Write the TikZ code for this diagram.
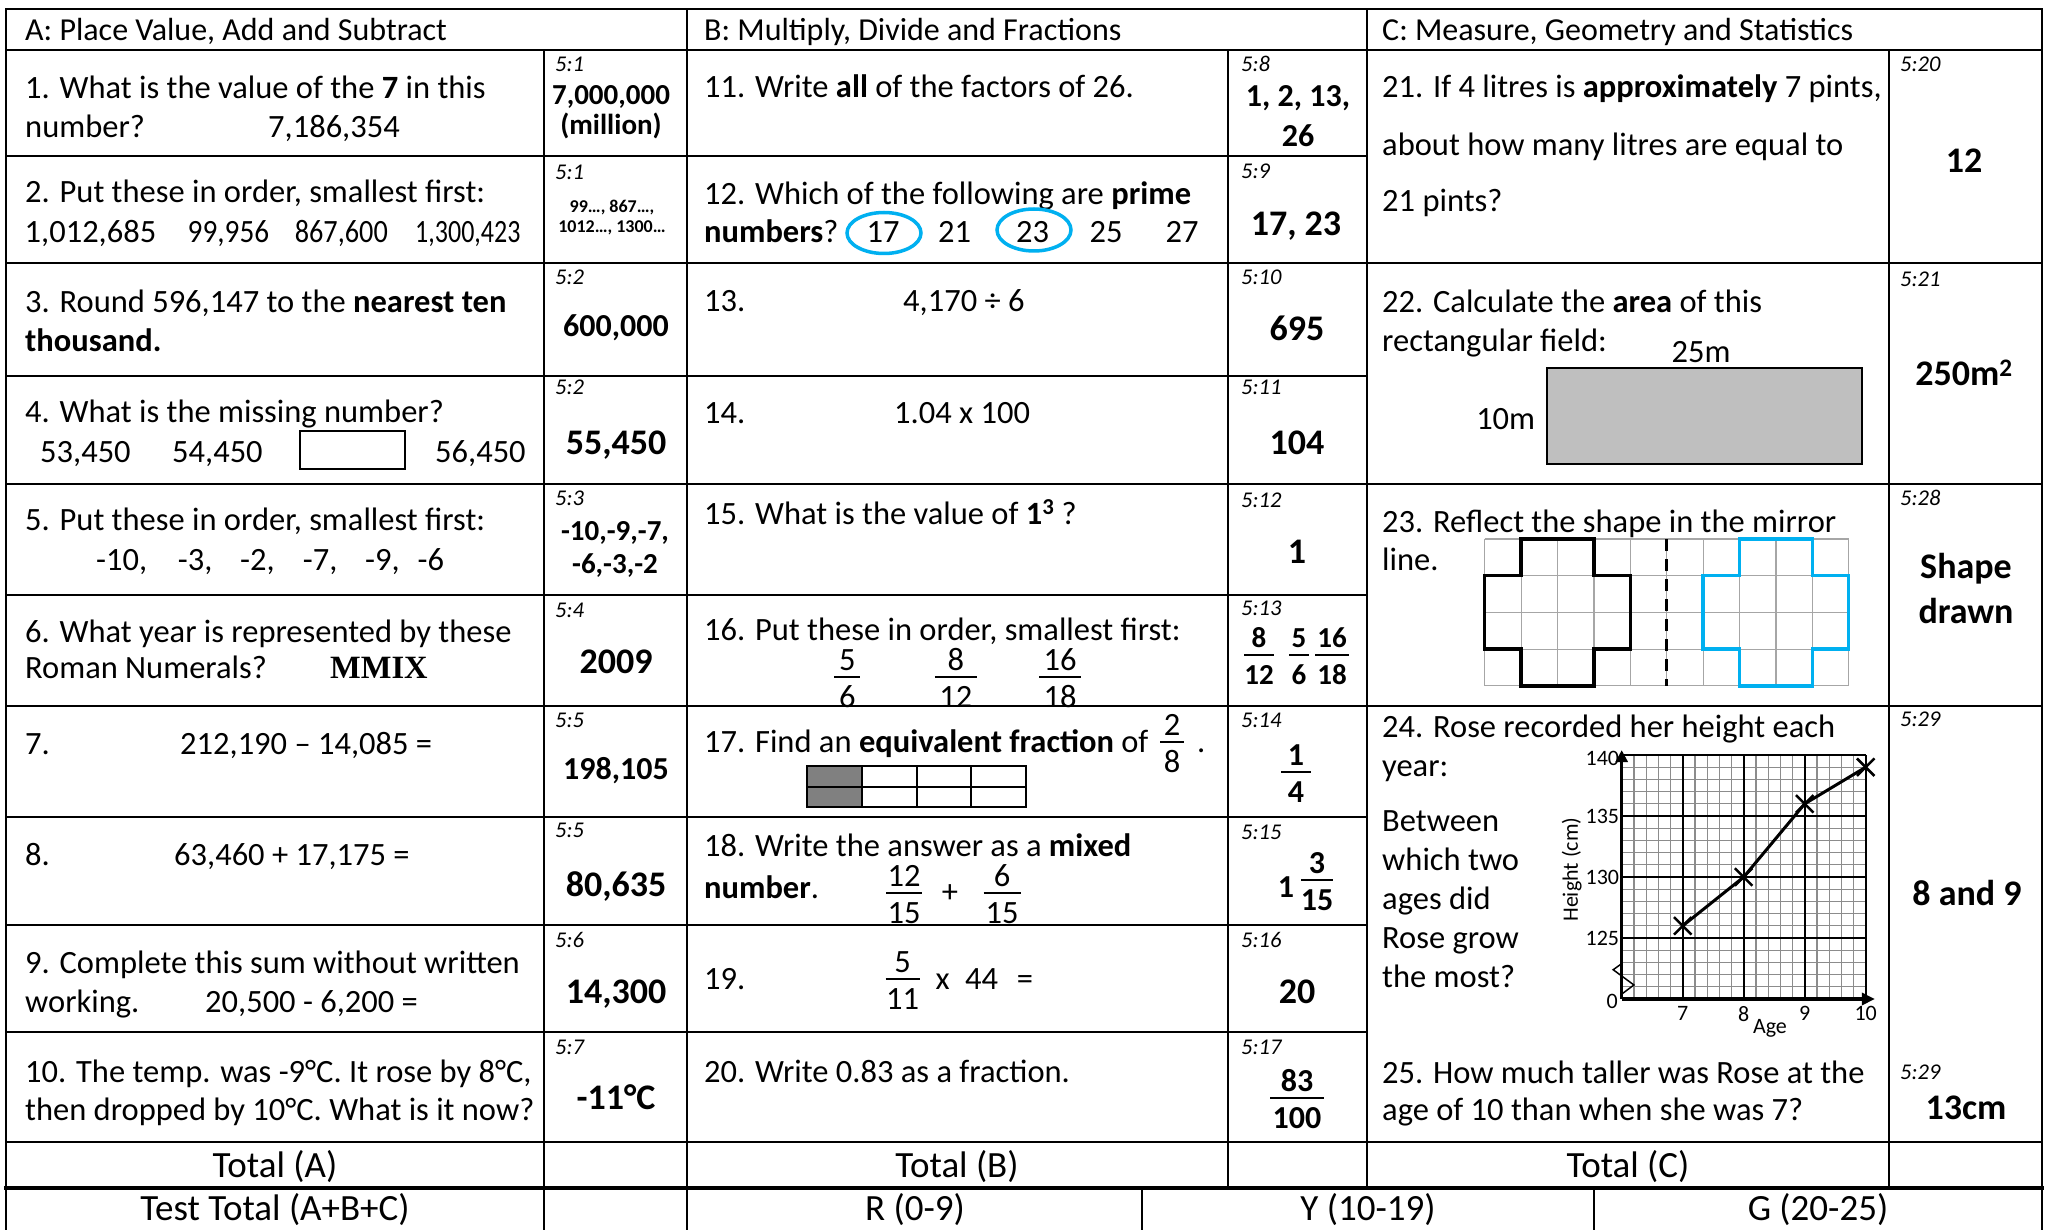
\documentclass[tikz,border=0pt]{standalone}
\usepackage{fontspec}
\usepackage{graphicx}
\setmainfont{Carlito}
\newfontfamily\romanf{Liberation Serif}
\usetikzlibrary{arrows.meta,shapes.misc}
\definecolor{fieldgrey}{HTML}{BFBFBF}
\definecolor{shadegrey}{HTML}{808080}
\definecolor{ringblue}{HTML}{00B0F0}
\definecolor{gridgrey}{HTML}{A6A6A6}
\definecolor{minorgrey}{HTML}{8C8C8C}
\newcommand\bodyf{\fontsize{32.5}{39}\selectfont}
\newcommand\hdf{\fontsize{32}{38}\selectfont}
\newcommand\ansf{\fontsize{36}{43}\selectfont\bfseries}
\newcommand\ansmf{\fontsize{32}{38}\selectfont\bfseries}
\newcommand\anssf{\fontsize{29}{35}\selectfont\bfseries}
\newcommand\anstf{\fontsize{18}{22}\selectfont\bfseries}
\newcommand\tagf{\fontsize{22.5}{27}\selectfont\itshape}
\newcommand\grf{\fontsize{22}{26}\selectfont}
\newcommand\totf{\fontsize{37}{44}\selectfont}
% stacked fraction: style, name, x, y of bar, half bar, numerator, denominator
\newcommand\fracat[7]{%
  \node[ctr,#1] (#2n) at (#3,#4-17) {#6};
  \node[ctr,#1] (#2d) at (#3,#4+20) {#7};
  \draw[line width=2pt] (#3-#5,#4) -- (#3+#5,#4);}

\begin{document}
\begin{tikzpicture}[x=1pt,y=-1pt,
  rule/.style={line width=2.8pt,line cap=rect},
  txt/.style={anchor=base west,inner sep=0pt,font=\bodyf,yshift=-10pt},
  ctr/.style={anchor=base,inner sep=0pt,font=\bodyf,yshift=-10pt},
  ans/.style={ctr,font=\ansf,yshift=-1pt},
  tag/.style={anchor=base west,inner sep=0pt,font=\tagf,yshift=-7pt},
  tot/.style={ctr,font=\totf,yshift=-1.5pt}]
\useasboundingbox (0,0) rectangle (2046,1230);
\fill[white] (0,0) rectangle (2046,1230);

% table rules
\draw[rule] (6,9) -- (2042,9);
\draw[rule] (6,50) -- (2042,50);
\foreach \y in {156,376,595,817,925,1032} \draw[rule] (6,\y) -- (1367,\y);
\foreach \y in {263,484,706} \draw[rule] (6,\y) -- (2042,\y);
\draw[rule] (6,1142) -- (2042,1142);
\draw[rule,line width=4.5pt] (6,1188) -- (2042,1188);
\foreach \x in {6,687,2042} \draw[rule] (\x,9) -- (\x,1240);
\draw[rule] (1367,9) -- (1367,1188);
\draw[rule] (544,50) -- (544,1240);
\foreach \x in {1228,1889} \draw[rule] (\x,50) -- (\x,1188);
\foreach \x in {1142,1594} \draw[rule] (\x,1188) -- (\x,1240);

% headings
\node[txt,font=\hdf] (hA) at (25,31) {A: Place Value, Add and Subtract};
\node[txt,font=\hdf] (hB) at (704,31) {B: Multiply, Divide and Fractions};
\node[txt,font=\hdf] (hC) at (1382,31) {C: Measure, Geometry and Statistics};

% column A
\node[txt] (q1a) at (25,89) {1. What is the value of the \textbf{7} in this};
\node[txt] (q1b) at (25,128) {number?};
\node[txt] (q1c) at (268,128) {7,186,354};
\node[tag] (t1) at (555,65) {5:1};
\node[ctr,font=\anssf] (a1a) at (611,95) {7,000,000};
\node[ctr,font=\anssf] (a1b) at (611,125) {(million)};

\node[txt] (q2a) at (25,193) {2. Put these in order, smallest first:};
\node[txt] (q2b) at (24.5,233) {1,012,685};
\node[txt] (q2c) at (187.5,233) {\scalebox{0.9}[1]{99,956}};
\node[txt] (q2d) at (294.6,233) {\scalebox{0.87}[1]{867,600}};
\node[txt] (q2e) at (415,233) {\scalebox{0.8}[1]{1,300,423}};
\node[tag] (t2) at (555,173) {5:1};
\node[ctr,font=\anstf,yshift=4pt] (a2a) at (612,207) {99…, 867…,};
\node[ctr,font=\anstf,yshift=4pt] (a2b) at (612,227) {1012…, 1300…};

\node[txt] (q3a) at (25,303) {3. Round 596,147 to the \textbf{nearest ten}};
\node[txt] (q3b) at (25,342) {\textbf{thousand.}};
\node[tag] (t3) at (555,278) {5:2};
\node[ctr,font=\ansmf] (a3) at (616,327) {600,000};

\node[txt] (q4a) at (25,413) {4. What is the missing number?};
\node[txt] (q4b) at (40,453) {53,450};
\node[txt] (q4c) at (172,453) {54,450};
\draw[line width=2pt] (300.4,431) rectangle (405.4,469);
\node[txt] (q4d) at (435,453) {56,450};
\node[tag] (t4) at (555,388) {5:2};
\node[ans] (a4) at (616,443) {55,450};

\node[txt] (q5a) at (25,520) {5. Put these in order, smallest first:};
\foreach \x/\v [count=\i] in {96/{-10,},177.7/{-3,},240/{-2,},302.7/{-7,},365/{-9,},417.4/{-6}}
  \node[txt] (q5n\i) at (\x,560) {\v};
\node[tag] (t5) at (555,498) {5:3};
\node[ctr,font=\anssf] (a5a) at (615,530) {-10,-9,-7,};
\node[ctr,font=\anssf] (a5b) at (615,563) {-6,-3,-2};

\node[txt] (q6a) at (25,632) {6. What year is represented by these};
\node[txt] (q6b) at (25,668) {Roman Numerals?};
\node[txt,font=\bodyf\romanf\bfseries] (q6c) at (330,668) {MMIX};
\node[tag] (t6) at (555,610) {5:4};
\node[ans] (a6) at (616,662) {2009};

\node[txt] (q7a) at (25,744) {7.};
\node[txt] (q7b) at (180,744) {212,190 – 14,085 =};
\node[tag] (t7) at (555,720) {5:5};
\node[ctr,font=\ansmf] (a7) at (616,769) {198,105};

\node[txt] (q8a) at (25,855) {8.};
\node[txt] (q8b) at (174,855) {63,460 + 17,175 =};
\node[tag] (t8) at (555,830) {5:5};
\node[ans] (a8) at (616,885) {80,635};

\node[txt] (q9a) at (25,963) {9. Complete this sum without written};
\node[txt] (q9b) at (25,1002) {working.};
\node[txt] (q9c) at (205,1002) {20,500 - 6,200 =};
\node[tag] (t9) at (555,940) {5:6};
\node[ans] (a9) at (616,992) {14,300};

\node[txt] (q10a) at (25,1072) {10. The temp. was -9°C. It rose by 8°C,};
\node[txt] (q10b) at (25,1110) {then dropped by 10°C. What is it now?};
\node[tag] (t10) at (555,1047) {5:7};
\node[ans] (a10) at (616,1098) {-11°C};

% column B
\node[txt] (q11) at (704,88) {11. Write \textbf{all} of the factors of 26.};
\node[tag] (t11) at (1241,65) {5:8};
\node[ctr,font=\ansmf] (a11a) at (1298,97) {1, 2, 13,};
\node[ctr,font=\ansmf] (a11b) at (1298,137) {26};

\node[txt] (q12a) at (704,195) {12. Which of the following are \textbf{prime}};
\node[txt] (q12b) at (704,233) {\textbf{numbers}?};
\foreach \x/\v in {883/17,954.5/21,1032.7/23,1106/25,1182/27}
  \node[ctr] (q12n\v) at (\x,233) {\v};
\draw[ringblue,line width=3.5pt] (884,233) ellipse [x radius=37,y radius=20.5];
\draw[ringblue,line width=3.5pt] (1034,230) ellipse [x radius=37,y radius=21];
\node[tag] (t12) at (1241,172) {5:9};
\node[ans] (a12) at (1296,225) {17, 23};

\node[txt] (q13a) at (704,302) {13.};
\node[txt] (q13b) at (903,302) {4,170 ÷ 6};
\node[tag] (t13) at (1241,278) {5:10};
\node[ans] (a13) at (1297,330) {695};

\node[txt] (q14a) at (704,414) {14.};
\node[txt] (q14b) at (894,414) {1.04 x 100};
\node[tag] (t14) at (1241,388) {5:11};
\node[ans] (a14) at (1297,443) {104};

\node[txt] (q15) at (704,514) {15. What is the value of \textbf{1\textsuperscript{3}} ?};
\node[tag] (t15) at (1241,500) {5:12};
\node[ans] (a15) at (1297,552) {1};

\node[txt] (q16) at (704,630) {16. Put these in order, smallest first:};
\fracat{}{f16a}{847.4}{677}{13}{5}{6}
\fracat{}{f16b}{955.9}{677}{21}{8}{12}
\fracat{}{f16c}{1060}{677}{21}{16}{18}
\node[tag] (t16) at (1241,608) {5:13};
\fracat{font=\anssf,yshift=1pt}{g16a}{1259}{655}{15}{8}{12}
\fracat{font=\anssf,yshift=1pt}{g16b}{1299}{655}{10}{5}{6}
\fracat{font=\anssf,yshift=1pt}{g16c}{1332}{655}{16.7}{16}{18}

\node[txt] (q17) at (704,742) {17. Find an \textbf{equivalent fraction} of};
\fracat{}{f17}{1172}{742}{12}{2}{8}
\node[txt] (q17d) at (1197,742) {.};
\begin{scope}[shift={(807,765.7)},x=54.75pt,y=-20.8pt]
  \fill[shadegrey] (0,0) rectangle (1,2);
  \foreach \i in {0,...,4} \draw[line width=2pt,line cap=rect] (\i,0) -- (\i,2);
  \foreach \j in {0,1,2} \draw[line width=2pt,line cap=rect] (0,\j) -- (4,\j);
\end{scope}
\node[tag] (t17) at (1241,720) {5:14};
\fracat{font=\ansmf}{g17}{1296}{772}{15}{1}{4}

\node[txt] (q18a) at (704,846) {18. Write the answer as a \textbf{mixed}};
\node[txt] (q18b) at (704,888) {\textbf{number}.};
\fracat{}{f18a}{904}{893}{18}{12}{15}
\node[ctr] (q18p) at (950,892) {+};
\fracat{}{f18b}{1002}{893}{18.5}{6}{15}
\node[tag] (t18) at (1241,832) {5:15};
\node[ctr,font=\ansmf] (a18) at (1286,887) {1};
\fracat{font=\ansmf}{g18}{1317}{880}{15.6}{3}{15}

\node[txt] (q19a) at (704,979) {19.};
\fracat{}{f19}{902.7}{979}{17}{5}{11}
\node[ctr] (q19x) at (942.6,979) {x};
\node[ctr] (q19n) at (981.7,979) {44};
\node[ctr] (q19e) at (1025,979) {=};
\node[tag] (t19) at (1241,940) {5:16};
\node[ans] (a19) at (1297,992) {20};

\node[txt] (q20) at (704,1072) {20. Write 0.83 as a fraction.};
\node[tag] (t20) at (1241,1047) {5:17};
\fracat{font=\ansmf}{g20}{1297}{1098}{27}{83}{100}

% column C
\node[txt] (q21a) at (1382,88) {21. If 4 litres is \textbf{approximately} 7 pints,};
\node[txt] (q21b) at (1382,146) {about how many litres are equal to};
\node[txt] (q21c) at (1382,202) {21 pints?};
\node[tag] (t21) at (1900,65) {5:20};
\node[ans] (a21) at (1964,162) {12};

\node[txt] (q22a) at (1382,303) {22. Calculate the \textbf{area} of this};
\node[txt] (q22b) at (1382,342) {rectangular field:};
\draw[fill=fieldgrey,line width=2pt] (1546.8,368.3) rectangle (1862,464);
\node[ctr] (q22w) at (1701,353) {25m};
\node[ctr] (q22h) at (1505.7,420) {10m};
\node[tag] (t22) at (1900,280) {5:21};
\node[ans] (a22) at (1964,375) {250m\textsuperscript{2}};

\node[txt] (q23a) at (1382,522) {23. Reflect the shape in the mirror};
\node[txt] (q23b) at (1382,560) {line.};
\begin{scope}[shift={(1484.7,539)},x=36.4pt,y=-36.7pt]
  \foreach \i in {0,...,10} \draw[gridgrey,line width=1.2pt] (\i,0) -- (\i,4);
  \foreach \j in {0,...,4} \draw[gridgrey,line width=1.2pt] (0,\j) -- (10,\j);
  \draw[line width=3.5pt] (1,0) -- (3,0) -- (3,1) -- (4,1) -- (4,3) -- (3,3) -- (3,4)
    -- (1,4) -- (1,3) -- (0,3) -- (0,1) -- (1,1) -- cycle;
  \draw[ringblue,line width=3.5pt] (9,0) -- (7,0) -- (7,1) -- (6,1) -- (6,3) -- (7,3) -- (7,4)
    -- (9,4) -- (9,3) -- (10,3) -- (10,1) -- (9,1) -- cycle;
  \draw[line width=3pt,dash pattern=on 12pt off 8pt] (5,0) -- (5,4);
\end{scope}
\node[tag] (t23) at (1900,498) {5:28};
\node[ans] (a23a) at (1966,567) {Shape};
\node[ans] (a23b) at (1966,612) {drawn};

\node[txt] (q24a) at (1382,727) {24. Rose recorded her height each};
\node[txt] (q24b) at (1382,766) {year:};
\foreach \t [count=\i] in {Between,which two,ages did,Rose grow,the most?}
  \node[txt] (q24l\i) at (1382,782+39*\i) {\t};
\node[tag] (t24) at (1900,719) {5:29};
\node[ans] (a24) at (1967,894) {8 and 9};

\begin{scope}[shift={(1621.7,999)},x=61pt,y=12.2pt]
  \draw[minorgrey,line width=1.2pt,xstep=0.2,ystep=1] (0,0) grid (4,20);
  \draw[line width=2.2pt,xstep=1,ystep=5] (0,0) grid (4,20);
  \draw[line width=3.5pt,-{Triangle[length=12pt,width=12pt]}] (0,0) -- (0,20.4);
  \draw[line width=3.5pt,-{Triangle[length=13pt,width=12pt]}] (0,0) -- (4.15,0);
  \draw[line width=1.5pt] (0,2.9) -- (-0.14,2.4) -- (0.2,1.15) -- (0,0.4);
  \draw[line width=3pt] (1,6) -- (2,10) -- (3,16) -- (4,19);
  \foreach \p [count=\i] in {(1,6),(2,10),(3,16),(4,19)}
    \node[cross out,draw,line width=2.5pt,minimum size=15pt,inner sep=0pt] (pt\i) at \p {};
  \foreach \h in {15,10,5}
    \node[anchor=east,inner sep=0pt,font=\grf] (yl\h) at (-0.04,\h) {\the\numexpr120+\h\relax};
  \node[anchor=east,inner sep=0pt,font=\grf] (yl20) at (-0.04,19.7) {140};
  \node[anchor=east,inner sep=0pt,font=\grf] (yl0) at (-0.06,-0.2) {0};
  \foreach \a in {7,8,9,10}
    \node[inner sep=0pt,font=\grf] (xl\a) at (\a-6,-1.2) {\a};
  \node[inner sep=0pt,font=\grf] (xlab) at (2.43,-2.4) {Age};
  \node[inner sep=0pt,font=\grf,rotate=90] (ylab) at (-0.82,10.6) {Height (cm)};
\end{scope}

\node[txt] (q25a) at (1382,1073) {25. How much taller was Rose at the};
\node[txt] (q25b) at (1382,1110) {age of 10 than when she was 7?};
\node[tag] (t25) at (1900,1072) {5:29};
\node[ans] (a25) at (1966,1108) {13cm};

% totals
\node[tot] (totA) at (275,1166) {Total (A)};
\node[tot] (totB) at (957,1166) {Total (B)};
\node[tot] (totC) at (1628,1166) {Total (C)};
\node[tot] (test) at (275,1209) {Test Total (A+B+C)};
\node[tot] (bandR) at (915,1209) {R (0-9)};
\node[tot] (bandY) at (1368,1209) {Y (10-19)};
\node[tot] (bandG) at (1818,1209) {G (20-25)};
\end{tikzpicture}
\end{document}
